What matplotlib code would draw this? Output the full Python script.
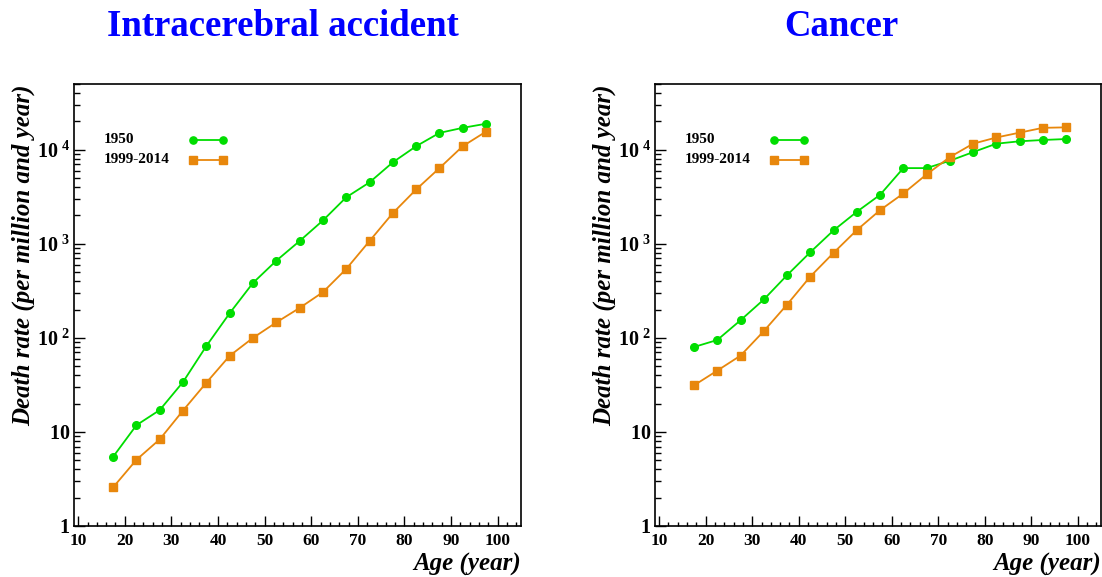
import matplotlib
matplotlib.use("Agg")
import matplotlib.pyplot as plt
from matplotlib.ticker import FixedLocator, LogLocator, MultipleLocator, NullFormatter

plt.rcParams['font.family'] = ['Liberation Serif', 'DejaVu Serif']
plt.rcParams['mathtext.fontset'] = 'custom'
plt.rcParams['mathtext.rm'] = 'Liberation Serif:bold'
plt.rcParams['mathtext.bf'] = 'Liberation Serif:bold'

# ages (centre of 5-year classes)
ages = [17.5, 22.5, 27.5, 32.5, 37.5, 42.5, 47.5, 52.5, 57.5,
        62.5, 67.5, 72.5, 77.5, 82.5, 87.5, 92.5, 97.5]

# death rates per million and year
stroke_1950 = [5.45, 11.8, 17.1, 34, 82, 183, 384, 661, 1070,
               1770, 3120, 4500, 7350, 10900, 15100, 17100, 18900]
stroke_1999 = [2.58, 5.06, 8.35, 16.9, 33.4, 64.5, 100, 146, 208,
               306, 540, 1070, 2120, 3780, 6380, 10900, 15600]
cancer_1950 = [80, 95, 154, 256, 464, 815, 1390, 2190, 3320,
               6380, 6380, 7640, 9440, 11600, 12300, 12700, 13000]
cancer_1999 = [31.3, 44.9, 64.8, 118, 226, 449, 802, 1400, 2280,
               3430, 5470, 8360, 11600, 13500, 15200, 17100, 17300]

titles = ['Intracerebral accident', 'Cancer']
series_names = ['1950', '1999-2014']
green = '#00dd00'
orange = '#e8870c'

ytick_vals = [1, 10, 100, 1000, 10000]
ytick_labels = [r'$\mathbf{1}\ \;$', r'$\mathbf{10}\ \;$',
                r'$\mathbf{10^{\;2}}$', r'$\mathbf{10^{\;3}}$', r'$\mathbf{10^{\;4}}$']

fig = plt.figure(figsize=(11.02, 5.77), dpi=100)
W, H = 1102, 577
boxes = [(74, 84, 521, 526), (655, 84, 1101, 526)]
title_x = [283, 841]
data = [(stroke_1950, stroke_1999), (cancer_1950, cancer_1999)]

for i in range(2):
    x0, y0, x1, y1 = boxes[i]
    ax = fig.add_axes([x0 / W, 1 - y1 / H, (x1 - x0) / W, (y1 - y0) / H])
    a, b = data[i]
    ax.plot(ages, a, '-o', color=green, lw=1.3, ms=5.5, mec=green)
    ax.plot(ages, b, '-s', color=orange, lw=1.3, ms=5.2, mec=orange)
    ax.set_yscale('log')
    ax.set_xlim(9.1, 105)
    ax.set_ylim(1, 5e4)

    ax.xaxis.set_major_locator(MultipleLocator(10))
    ax.xaxis.set_minor_locator(MultipleLocator(2))
    ax.yaxis.set_major_locator(FixedLocator(ytick_vals))
    ax.set_yticklabels(ytick_labels)
    ax.yaxis.set_minor_locator(LogLocator(base=10, subs=range(2, 10)))
    ax.yaxis.set_minor_formatter(NullFormatter())
    ax.tick_params(axis='both', which='both', direction='in', width=1)
    ax.tick_params(axis='x', which='major', length=7, pad=5, labelsize=12.5)
    ax.tick_params(axis='x', which='minor', length=3)
    ax.tick_params(axis='y', which='major', length=8, pad=3, labelsize=14.5)
    ax.tick_params(axis='y', which='minor', length=4)
    for lab in ax.get_xticklabels():
        lab.set_fontweight('bold')
    for sp in ax.spines.values():
        sp.set_linewidth(1.2)

    ax.set_xlabel('Age (year)', fontsize=18, fontweight='bold', style='italic', loc='right', labelpad=3)
    ax.set_ylabel('Death rate (per million and year)', fontsize=18, fontweight='bold',
                  style='italic', loc='top', labelpad=1)

    # legend, text on the left, sample on the right
    for k, (name, col, mk) in enumerate(zip(series_names, [green, orange], ['o', 's'])):
        yy = 0.874 - 0.045 * k
        ax.text(0.067, yy, name, transform=ax.transAxes, fontsize=11,
                fontweight='bold', va='center', ha='left')
        ax.plot([0.266, 0.333], [yy, yy], '-' + mk, color=col, mec=col, lw=1.3, ms=5.2,
                transform=ax.transAxes, clip_on=False)

    fig.text(title_x[i] / W, 1 - 27 / H, titles[i], color='#0000ff', fontsize=26.5,
             fontweight='bold', ha='center', va='center')

fig.savefig('out.png', dpi=100)
